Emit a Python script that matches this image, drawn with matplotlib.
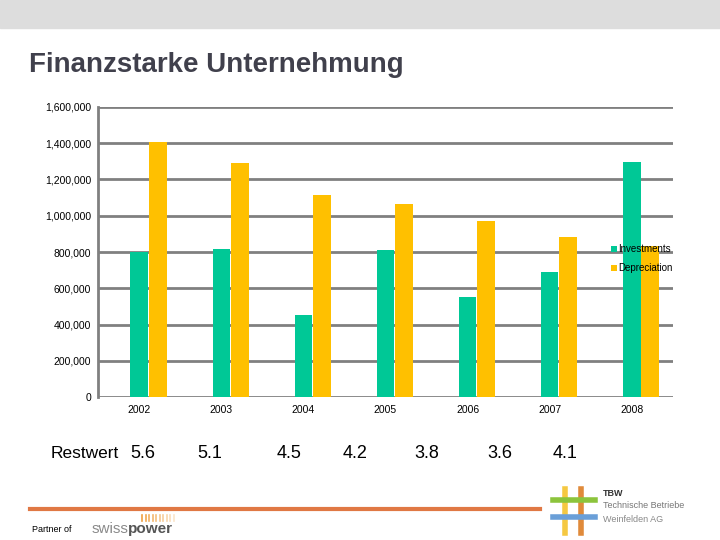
import numpy as np
import matplotlib.pyplot as plt
from matplotlib.patches import Rectangle
from matplotlib.lines import Line2D

plt.rcParams['font.family'] = ['Liberation Sans', 'DejaVu Sans']

years = ['2002', '2003', '2004', '2005', '2006', '2007', '2008']
investments = [800000, 817000, 452000, 811000, 552000, 690000, 1296000]
depreciation = [1408000, 1291000, 1114000, 1065000, 971000, 883000, 833000]
restwert = ['5.6', '5.1', '4.5', '4.2', '3.8', '3.6', '4.1']
restwert_x = [143, 210, 289, 355, 427, 500, 565]  # pixel centres

W, H = 720, 540
fig = plt.figure(figsize=(7.2, 5.4), dpi=100)

def px(x, y):
    return x / W, 1 - y / H

# grey band on top
fig.patches.append(Rectangle((0, 1 - 28 / H), 1, 28 / H, transform=fig.transFigure,
                             color='#dddddd', zorder=0))
fig.text(*px(29, 65), 'Finanzstarke Unternehmung', fontsize=20, fontweight='bold',
         color='#40404c', va='center', ha='left')

ax = fig.add_axes([98 / W, 1 - 397 / H, 575 / W, 290 / H])
x = np.arange(len(years))
green, yellow = '#00c896', '#ffc000'
ax.bar(x, investments, width=0.21, color=green, label='Investments', zorder=3)
ax.bar(x + 0.225, depreciation, width=0.22, color=yellow, label='Depreciation', zorder=3)

ax.set_xlim(-0.5, 6.5)
ax.set_ylim(0, 1600000)
ax.set_yticks(np.arange(0, 1600001, 200000))
ax.yaxis.set_major_formatter(plt.FuncFormatter(lambda v, p: f'{int(v):,}'))
ax.set_xticks(x)
ax.set_xticklabels(years)
ax.tick_params(length=0, labelsize=7.5)
ax.tick_params(axis='y', pad=5)
ax.tick_params(axis='x', pad=6)
ax.grid(axis='y', color='#808080', linewidth=2, zorder=1)
for s in ['top', 'right', 'bottom']:
    ax.spines[s].set_visible(False)
ax.spines['left'].set_color('#808080')
ax.spines['left'].set_linewidth(2)

ax.legend(loc='upper left', bbox_to_anchor=(0.885, 0.54), frameon=False, fontsize=7,
          handlelength=0.6, handleheight=0.6, handletextpad=0.2, labelspacing=0.9,
          borderaxespad=0)

# Restwert row
fig.text(*px(51, 453), 'Restwert', fontsize=12.5, va='center', ha='left')
for xx, v in zip(restwert_x, restwert):
    fig.text(*px(xx, 453), v, fontsize=13, va='center', ha='center')

# footer
fig.add_artist(Line2D([30 / W, 540 / W], [1 - 509 / H] * 2, color='#e07844', linewidth=3))
fig.text(*px(32, 530), 'Partner of', fontsize=6.5, va='center')
fig.text(*px(92, 529), 'swiss', fontsize=11, color='#8a8a8a', va='center')
fig.text(*px(128, 529), 'power', fontsize=11, color='#555555', va='center', fontweight='bold')
for i in range(10):
    fig.add_artist(Line2D([(142 + i * 3.5) / W] * 2, [1 - 515 / H, 1 - 521 / H],
                          color='#f0a040', linewidth=1.2, alpha=1 - i * 0.08))

# TBW logo
fig.add_artist(Line2D([565 / W] * 2, [1 - 489 / H, 1 - 533 / H], color='#f5c842', linewidth=4))
fig.add_artist(Line2D([581 / W] * 2, [1 - 489 / H, 1 - 533 / H], color='#e08a3a', linewidth=4))
fig.add_artist(Line2D([553 / W, 595 / W], [1 - 500 / H] * 2, color='#8cc43c', linewidth=4))
fig.add_artist(Line2D([553 / W, 595 / W], [1 - 517 / H] * 2, color='#6a9fd8', linewidth=4))
fig.text(*px(603, 493), 'TBW', fontsize=6.5, fontweight='bold', color='#333333', va='center')
fig.text(*px(603, 506), 'Technische Betriebe', fontsize=6.5, color='#777777', va='center')
fig.text(*px(603, 519), 'Weinfelden AG', fontsize=6.5, color='#888888', va='center')

fig.savefig('out.png', dpi=100)
